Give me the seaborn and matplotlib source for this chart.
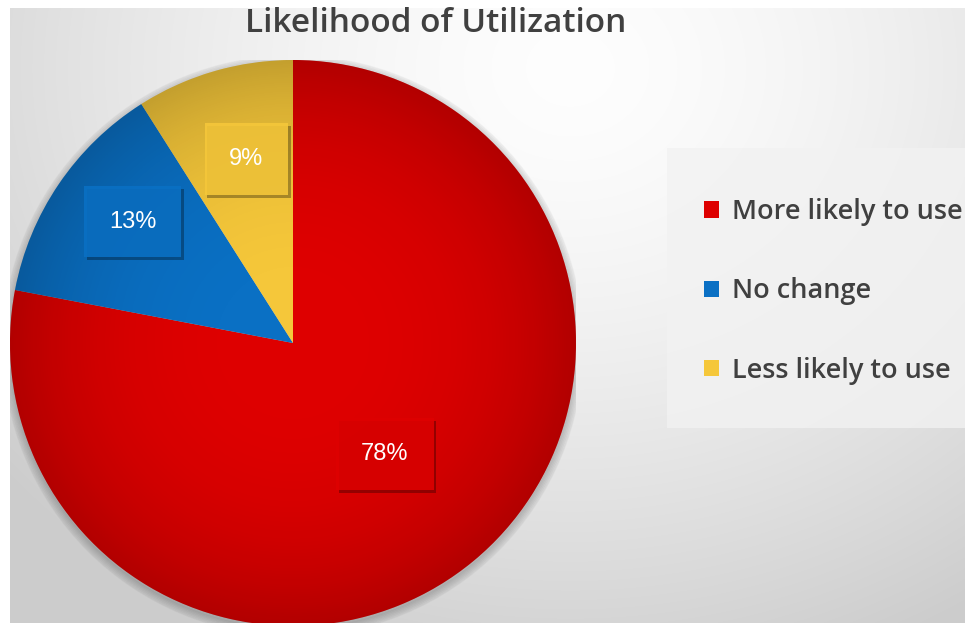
import numpy as np
import matplotlib
matplotlib.use("Agg")
import matplotlib.pyplot as plt
import seaborn as sns
from matplotlib.patches import Patch, Circle, Rectangle
import matplotlib.patheffects as pe

categories = ["More likely to use", "No change", "Less likely to use"]
values = [78, 13, 9]
colors = ["#DE0000", "#0A70C4", "#F5C73A"]
label_dist = [0.51, 0.71, 0.67]
label_turn = [0.0, -3.0, -2.0]
title = "Likelihood of Utilization"

sns.set_theme(style="white")
plt.rcParams['font.family'] = ['Open Sans', 'DejaVu Sans']

W, H = 965, 623
fig = plt.figure(figsize=(W / 100, H / 100), dpi=100)
fig.patch.set_facecolor('white')

# background gradient (white strip on left/top as in the reference)
bx0, by0 = 10, 8
bg = fig.add_axes([bx0 / W, 0, 1 - bx0 / W, 1 - by0 / H])
yy, xx = np.mgrid[0:H - by0, 0:W - bx0]
d = np.sqrt(((xx - 560) / 650.0) ** 2 + ((yy - 60) / 560.0) ** 2)
g = np.clip(0.995 - 0.16 * d ** 1.5, 0.80, 1.0)
bg.imshow(np.dstack([g, g, g]), aspect='auto', interpolation='bilinear')
bg.set_axis_off()

# legend panel
fig.patches.append(Rectangle((667 / W, 1 - 428 / H), (W - 667) / W, 280 / H,
                             transform=fig.transFigure, facecolor='#F2F2F2',
                             edgecolor='none', alpha=0.8, zorder=1))

# pie axes
cx, cy, r = 293, 343, 283
ax = fig.add_axes([(cx - r) / W, (H - cy - r) / H, 2 * r / W, 2 * r / H])

for k in range(6):
    ax.add_patch(Circle((0.0, -0.01), 1.0 + 0.005 * k, color='black', alpha=0.03, zorder=0))

wedges, _ = ax.pie(values, colors=colors, startangle=90, counterclock=False,
                   radius=1.0, wedgeprops=dict(linewidth=0))
for w in wedges:
    w.set_zorder(2)

# radial shading overlay
n = 400
gy, gx = np.mgrid[-1:1:n * 1j, -1:1:n * 1j]
rr = np.sqrt(gx ** 2 + gy ** 2)
shade = np.zeros((n, n, 4))
shade[..., 3] = np.clip(0.20 * rr ** 3, 0, 0.22)
im = ax.imshow(shade, extent=[-1, 1, -1, 1], zorder=3, origin='lower', aspect='auto')
im.set_clip_path(Circle((0, 0), 1.0, transform=ax.transData))
ax.set_xlim(-1, 1)
ax.set_ylim(-1, 1)
ax.set_aspect('equal')
ax.set_axis_off()

# labels
total = sum(values)
start = 90.0
for v, c, dist, turn in zip(values, colors, label_dist, label_turn):
    span = 360.0 * v / total
    mid = np.deg2rad(start - span / 2 + turn)
    start -= span
    x, y = dist * np.cos(mid), dist * np.sin(mid)
    t = ax.text(x, y, f"{v}%", ha='center', va='center', color='white',
                fontsize=17, family=['Liberation Sans', 'DejaVu Sans'], zorder=5,
                bbox=dict(boxstyle='square,pad=1.05', facecolor=c, edgecolor='none', alpha=0.9))
    t.get_bbox_patch().set_path_effects([
        pe.SimplePatchShadow(offset=(2, -2), shadow_rgbFace='black', alpha=0.3),
        pe.Normal()])

# title
fig.text(436 / W, 1 - 23 / H, title, ha='center', va='center', fontsize=24,
         fontweight='semibold', color='#404040')

# legend
handles = [Patch(facecolor=c, edgecolor='none') for c in colors]
leg = fig.legend(handles, categories, loc='upper left',
                 bbox_to_anchor=(704 / W, 1 - 198 / H), frameon=False,
                 prop=dict(size=19.5, weight='semibold'), handlelength=0.55, handleheight=0.55,
                 handletextpad=0.5, labelspacing=1.9, borderpad=0,
                 borderaxespad=0, labelcolor='#404040')

fig.savefig("out.png", dpi=100)
